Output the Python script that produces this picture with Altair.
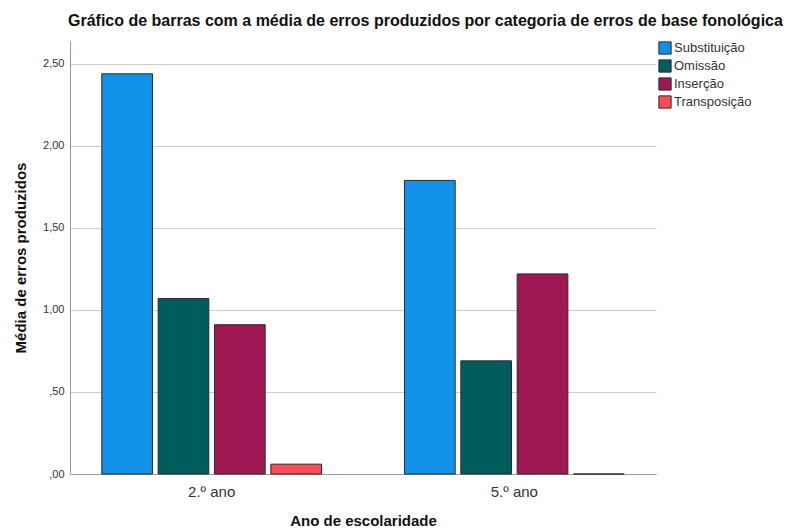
import altair as alt
import pandas as pd

anos = ["2.º ano", "5.º ano"]
categorias = ["Substituição", "Omissão", "Inserção", "Transposição"]
valores_2 = [2.44, 1.07, 0.91, 0.06]
valores_5 = [1.79, 0.69, 1.22, 0.00]
cores = ["#1192e8", "#005d5d", "#9f1853", "#fa4d56"]

rows = []
for ano, vals in zip(anos, [valores_2, valores_5]):
    for c, v in zip(categorias, vals):
        rows.append({"ano": ano, "categoria": c, "media": v})
df = pd.DataFrame(rows)

font = "Liberation Sans"

chart = alt.Chart(df).mark_bar(stroke="#2b2b2b", strokeWidth=1).encode(
    x=alt.X("ano:N", sort=anos, title="Ano de escolaridade",
            scale=alt.Scale(paddingInner=0.274, paddingOuter=0.105),
            axis=alt.Axis(labelAngle=0, labelFontSize=15, labelColor="#333333",
                          labelFont=font, labelPadding=10, ticks=False,
                          domainColor="#999999", titleFont=font, titleFontSize=15,
                          titleFontWeight="bold", titleColor="#111111", titlePadding=14)),
    xOffset=alt.XOffset("categoria:N", sort=categorias,
                        scale=alt.Scale(paddingInner=0.1, paddingOuter=0)),
    y=alt.Y("media:Q", title="Média de erros produzidos",
            scale=alt.Scale(domain=[0, 2.64], nice=False),
            axis=alt.Axis(values=[0, 0.5, 1.0, 1.5, 2.0, 2.5],
                          labelExpr="datum.value < 1 ? ',' + substring(format(datum.value, '.2f'), 2) : replace(format(datum.value, '.2f'), '.', ',')",
                          labelFontSize=11, labelColor="#333333", labelFont=font,
                          ticks=False, labelPadding=6, grid=True, gridColor="#cccccc",
                          domainColor="#999999", titleFont=font, titleFontSize=15,
                          titleFontWeight="bold", titleColor="#111111", titlePadding=14)),
    color=alt.Color("categoria:N", sort=categorias,
                    scale=alt.Scale(domain=categorias, range=cores),
                    legend=alt.Legend(title=None, orient="right", offset=2,
                                      symbolType="square", symbolSize=150,
                                      symbolStrokeColor="#2b2b2b", symbolStrokeWidth=1,
                                      symbolOpacity=1, labelFont=font, labelFontSize=13,
                                      labelColor="#333333", rowPadding=0, labelOffset=2)),
).properties(
    width=586,
    height=433,
    title=alt.TitleParams("Gráfico de barras com a média de erros produzidos por categoria de erros de base fonológica",
                          anchor="start", frame="group", font=font, fontSize=16,
                          fontWeight="bold", color="#111111", offset=12, dx=-2),
).configure(background="white").configure_view(stroke=None)

chart.save("out.html", embed_options={"renderer": "svg", "actions": False})
